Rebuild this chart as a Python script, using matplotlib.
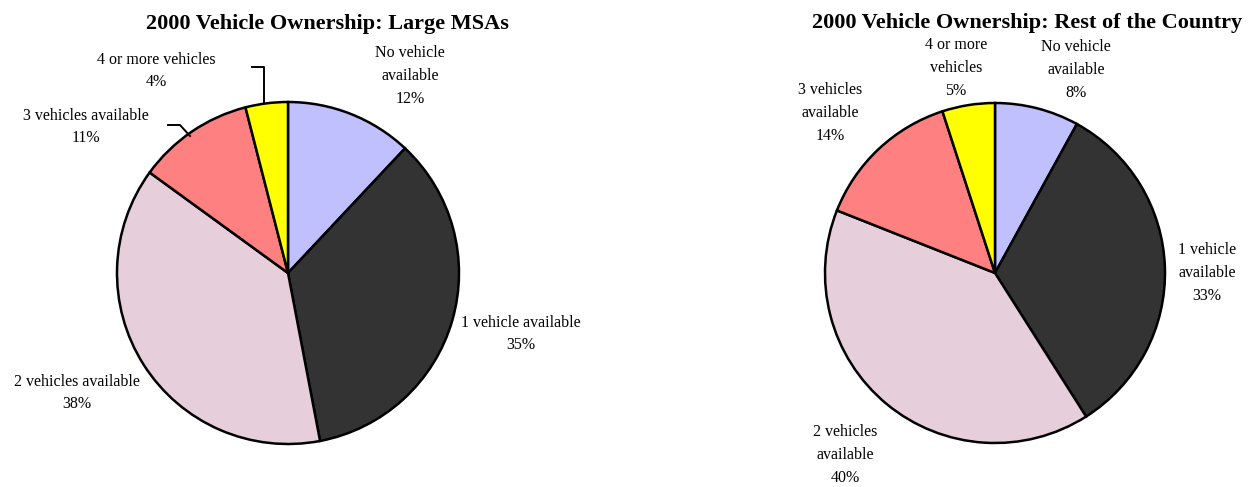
import matplotlib
matplotlib.use("Agg")
import matplotlib.pyplot as plt

plt.rcParams['font.family'] = ['Liberation Serif', 'DejaVu Serif']

categories = ["No vehicle available", "1 vehicle available", "2 vehicles available",
              "3 vehicles available", "4 or more vehicles"]
msa_values = [12, 35, 38, 11, 4]
rest_values = [8, 33, 40, 14, 5]
colors = ["#C0C0FF", "#333333", "#E6CEDB", "#FF8080", "#FFFF00"]

W, H = 1250, 487
fig = plt.figure(figsize=(W / 100, H / 100), dpi=100)
ax = fig.add_axes([0, 0, 1, 1])

wedge_style = dict(edgecolor="black", linewidth=1.8)

# left pie: large MSAs
ax.pie(msa_values, colors=colors, startangle=90, counterclock=False,
       center=(288, H - 273), radius=171, wedgeprops=wedge_style)
# right pie: rest of the country
ax.pie(rest_values, colors=colors, startangle=90, counterclock=False,
       center=(995, H - 273), radius=170, wedgeprops=wedge_style)

ax.set_xlim(0, W)
ax.set_ylim(0, H)
ax.set_aspect("equal")
ax.axis("off")

lab = dict(fontsize=11.5, ha="center", va="center", linespacing=1.55)

# titles
ax.text(327, H - 24, "2000 Vehicle Ownership: Large MSAs", fontsize=16,
        fontweight="bold", ha="center", va="center")
ax.text(1027, H - 23, "2000 Vehicle Ownership: Rest of the Country", fontsize=16,
        fontweight="bold", ha="center", va="center")

# left labels
ax.text(410, H - 76, "No vehicle\navailable\n%d%%" % msa_values[0], **lab)
ax.text(521, H - 334, "1 vehicle available\n%d%%" % msa_values[1], **lab)
ax.text(77, H - 393, "2 vehicles available\n%d%%" % msa_values[2], **lab)
ax.text(86, H - 127, "3 vehicles available\n%d%%" % msa_values[3], **lab)
ax.text(156, H - 71, "4 or more vehicles\n%d%%" % msa_values[4], **lab)

# leader lines
ax.plot([252, 264, 264], [H - 67, H - 67, H - 103], color="black", lw=1.4)
ax.plot([168, 180, 190], [H - 125, H - 125, H - 136], color="black", lw=1.4)

# right labels
ax.text(1076, H - 70, "No vehicle\navailable\n%d%%" % rest_values[0], **lab)
ax.text(1207, H - 273, "1 vehicle\navailable\n%d%%" % rest_values[1], **lab)
ax.text(845, H - 455, "2 vehicles\navailable\n%d%%" % rest_values[2], **lab)
ax.text(830, H - 113, "3 vehicles\navailable\n%d%%" % rest_values[3], **lab)
ax.text(956, H - 68, "4 or more\nvehicles\n%d%%" % rest_values[4], **lab)

fig.savefig("out.png", dpi=100)
